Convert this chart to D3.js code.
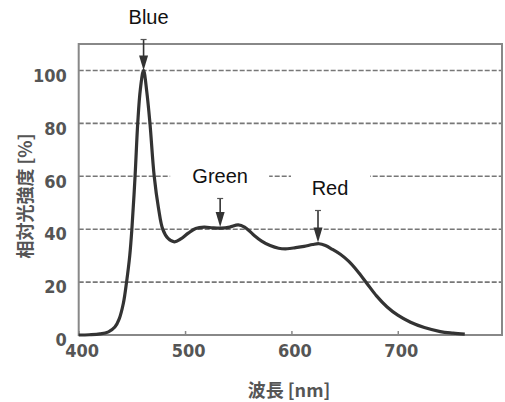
<!DOCTYPE html>
<html><head><meta charset="utf-8">
<script src="https://cdn.jsdelivr.net/npm/d3@7"></script>
<style>html,body{margin:0;padding:0;background:#fff;}svg{display:block;}</style>
</head><body>
<svg id="chart" width="505" height="402"></svg>
<script>
const wavelength = [400,410,420,428,434,438,442,445,448,450,453,455.5,458,461,464,467,471,475,479,484,490,496,503,510,518,526,534,542,550,556,564,572,580,588,596,604,612,620,626,632,638,646,654,662,671,680,690,700,712,725,740,752,763];
const intensity  = [0,0.1,0.4,1.2,3,6,12,20,30,40,60,80,93,100,92,80,60,48,40,36.5,35.2,36.3,38.5,40.3,40.8,40.5,40.4,40.8,41.6,40.8,38,35.5,33.8,32.8,32.6,33,33.5,34.2,34.5,33.8,32.5,30.5,27.8,24.2,19.5,14.8,10.6,7.5,4.8,2.8,1.3,0.7,0.3];
const xTicks = [400,500,600,700];
const yTicks = [0,20,40,60,80,100];
const peakLabels = ["Blue","Green","Red"];
const peakWavelengths = [461,533,625];
const peakValues = [100,40.8,35];

const svg = d3.select("#chart");
const x = d3.scaleLinear().domain([400,798]).range([78.7,502]);
const y = d3.scaleLinear().domain([0,110]).range([335,44]);

// gridlines
svg.append("g").selectAll("line").data(yTicks.filter(d=>d>0)).join("line")
  .attr("x1",x(400)).attr("x2",x(798))
  .attr("y1",d=>y(d)).attr("y2",d=>y(d))
  .attr("stroke","#777").attr("stroke-width",1.6).attr("stroke-dasharray","5,2");

// frame
svg.append("rect").attr("x",x(400)).attr("y",y(110))
  .attr("width",x(798)-x(400)).attr("height",y(0)-y(110))
  .attr("fill","none").attr("stroke","#888").attr("stroke-width",2);

// x axis ticks
const xAxis = d3.axisBottom(x).tickValues(xTicks).tickSize(-4).tickFormat(d3.format("d"));
const gx = svg.append("g").attr("transform",`translate(0,${y(0)})`).call(xAxis);
gx.select(".domain").remove();
gx.selectAll(".tick line").attr("stroke","#888").attr("stroke-width",1.5);
gx.selectAll(".tick text").attr("dy","1.05em").attr("dx",3)
  .attr("font-family","'Liberation Sans Narrow','DejaVu Sans Condensed','Liberation Sans',sans-serif")
  .attr("font-size",18).attr("font-weight","bold").attr("fill","#555");

// y axis labels
const yAxis = d3.axisLeft(y).tickValues(yTicks).tickSize(0).tickPadding(12).tickFormat(d3.format("d"));
const gy = svg.append("g").attr("transform",`translate(${x(400)},0)`).call(yAxis);
gy.select(".domain").remove();
gy.selectAll(".tick text").attr("dy","0.6em")
  .attr("font-family","'Liberation Sans Narrow','DejaVu Sans Condensed','Liberation Sans',sans-serif")
  .attr("font-size",18).attr("font-weight","bold").attr("fill","#555");

// curve
const pts = wavelength.map((w,i)=>[w,intensity[i]]);
svg.append("path").datum(pts)
  .attr("d",d3.line().x(d=>x(d[0])).y(d=>y(d[1])).curve(d3.curveCatmullRom.alpha(0.5)))
  .attr("fill","none").attr("stroke","#333").attr("stroke-width",3.2).attr("stroke-linejoin","round");

// annotation boxes, arrows, text
const boxes = [
  {x0:-45,x1:50,y0:0,y1:39,tdx:5,ty:24},
  {x0:-50,x1:49,y0:160,y1:198,tdx:0,ty:183},
  {x0:-27,x1:52,y0:165,y1:210,tdx:12,ty:195}
];
peakLabels.forEach((lab,i)=>{
  const px = x(peakWavelengths[i]), py = y(peakValues[i]);
  const b = boxes[i];
  svg.append("rect").attr("x",px+b.x0).attr("y",b.y0)
    .attr("width",b.x1-b.x0).attr("height",b.y1-b.y0).attr("fill","#fff");
  svg.append("line").attr("x1",px).attr("x2",px).attr("y1",b.y1).attr("y2",py-12)
    .attr("stroke","#333").attr("stroke-width",1.6);
  svg.append("line").attr("x1",px-3).attr("x2",px+3).attr("y1",b.y1+0.5).attr("y2",b.y1+0.5)
    .attr("stroke","#555").attr("stroke-width",1.2);
  svg.append("path").attr("d",`M${px-4.5},${py-15}L${px+4.5},${py-15}L${px},${py}Z`).attr("fill","#333");
  svg.append("text").attr("x",px+b.tdx).attr("y",b.ty).attr("text-anchor","middle")
    .attr("font-family","'Liberation Sans',Arial,sans-serif").attr("font-size",20).attr("fill","#111")
    .text(lab);
});

// axis titles
svg.append("text").attr("transform","translate(24,196) rotate(-90)").attr("text-anchor","middle")
  .attr("dominant-baseline","central")
  .attr("font-family","'Noto Sans CJK JP',sans-serif").attr("font-size",18).attr("font-weight","bold").attr("fill","#555")
  .text("相対光強度 [%]");
svg.append("text").attr("x",289).attr("y",397).attr("text-anchor","middle")
  .attr("font-family","'Noto Sans CJK JP',sans-serif").attr("font-size",18).attr("font-weight","bold").attr("fill","#555")
  .text("波長 [nm]");
</script>
</body></html>
